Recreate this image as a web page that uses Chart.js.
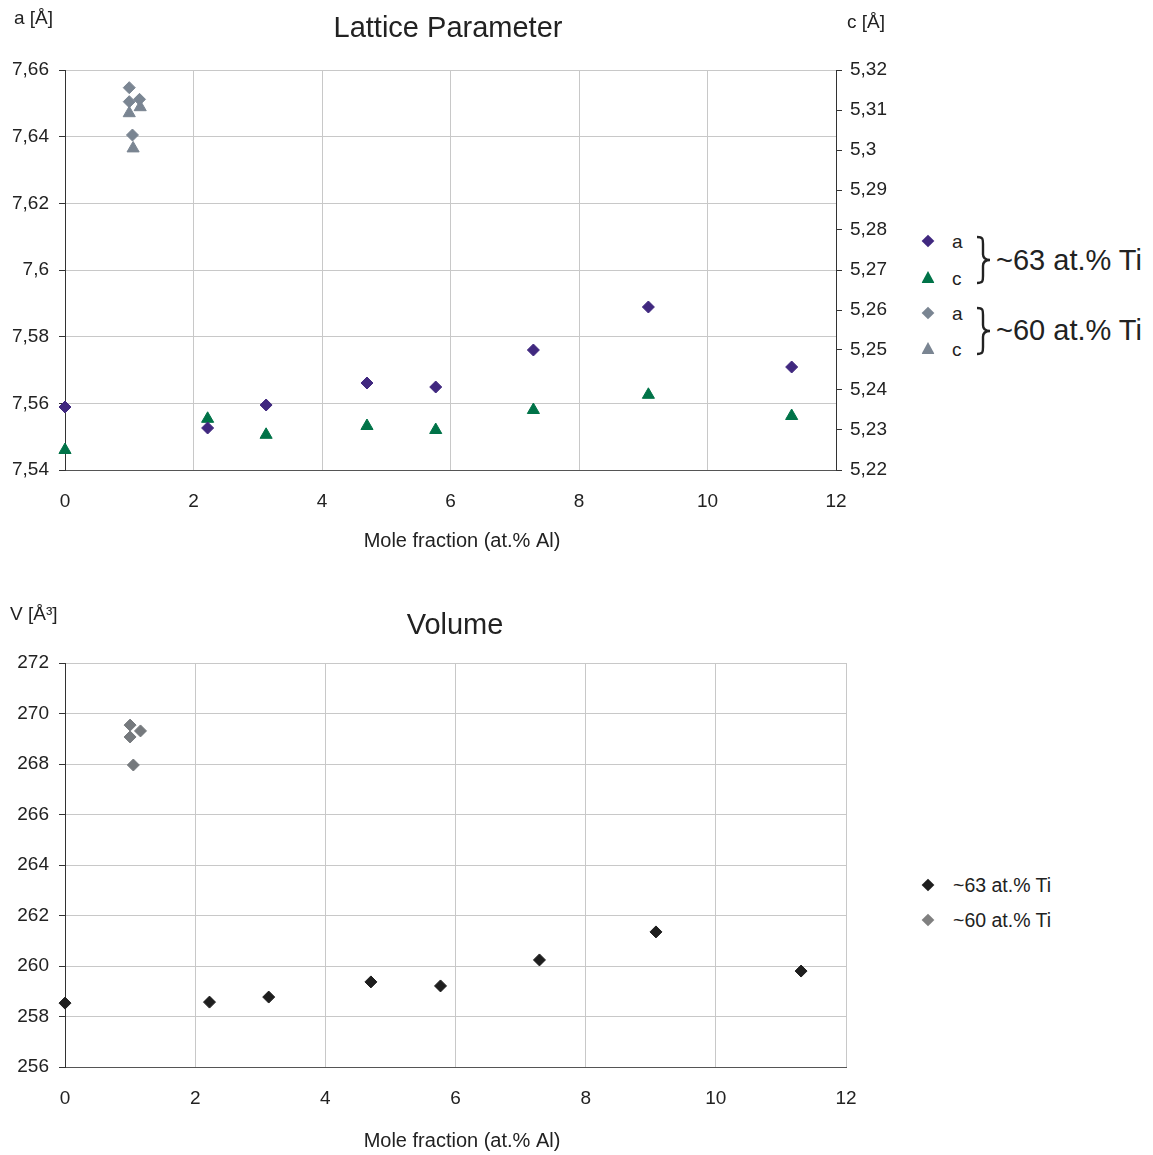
<!DOCTYPE html>
<html>
<head>
<meta charset="utf-8">
<script src="https://cdn.jsdelivr.net/npm/chart.js@4.4.1/dist/chart.umd.min.js"></script>
<style>
  body { margin: 0; background: #fff; font-family: "Liberation Sans", Arial, sans-serif; color: #222; }
  #page { position: relative; width: 1153px; height: 1155px; overflow: hidden; }
  canvas { position: absolute; left: 0; }
  .lg { position: absolute; line-height: 1; white-space: nowrap; transform: translateY(-50%); }
  .dia { position: absolute; width: 9px; height: 9px; transform: translate(-50%, -50%) rotate(45deg); }
  .tri { position: absolute; width: 13px; height: 12px; transform: translate(-50%, -50%);
         clip-path: polygon(50% 0, 100% 100%, 0 100%); }
  .brace { position: absolute; }
</style>
</head>
<body>
<div id="page">
  <canvas id="latticeChart" width="900" height="575" style="top:0"></canvas>
  <canvas id="volumeChart" width="900" height="580" style="top:575px"></canvas>

  <!-- legend, lattice parameter -->
  <div class="dia" style="left:928px;top:241px;background:#40287f"></div>
  <div class="lg" style="left:952px;top:241px;font-size:19px">a</div>
  <div class="tri" style="left:928px;top:277px;background:#007348"></div>
  <div class="lg" style="left:952px;top:278px;font-size:19px">c</div>
  <svg class="brace" style="left:974px;top:235px" width="20" height="50" viewBox="0 0 20 50">
    <path d="M3,2 C9,2 9,4 9,9 L9,19 C9,23 11,25 16,25 C11,25 9,27 9,31 L9,41 C9,46 9,48 3,48" fill="none" stroke="#222" stroke-width="2.4"/>
  </svg>
  <div class="lg" style="left:996px;top:260px;font-size:29px">~63 at.% Ti</div>

  <div class="dia" style="left:928px;top:313px;background:#7a8592"></div>
  <div class="lg" style="left:952px;top:313px;font-size:19px">a</div>
  <div class="tri" style="left:928px;top:348px;background:#7a8592"></div>
  <div class="lg" style="left:952px;top:349px;font-size:19px">c</div>
  <svg class="brace" style="left:974px;top:306px" width="20" height="50" viewBox="0 0 20 50">
    <path d="M3,2 C9,2 9,4 9,9 L9,19 C9,23 11,25 16,25 C11,25 9,27 9,31 L9,41 C9,46 9,48 3,48" fill="none" stroke="#222" stroke-width="2.4"/>
  </svg>
  <div class="lg" style="left:996px;top:330px;font-size:29px">~60 at.% Ti</div>

  <!-- legend, volume -->
  <div class="dia" style="left:928px;top:885px;background:#1e1e1e"></div>
  <div class="lg" style="left:953px;top:886px;font-size:19.5px">~63 at.% Ti</div>
  <div class="dia" style="left:928px;top:920px;background:#808080"></div>
  <div class="lg" style="left:953px;top:921px;font-size:19.5px">~60 at.% Ti</div>
</div>

<script>
// data (x = mole fraction at.% Al)
const x63 = [0, 2.22, 3.13, 4.70, 5.77, 7.29, 9.08, 11.31];
const a63 = [7.5589, 7.5526, 7.5595, 7.5661, 7.5649, 7.5760, 7.5889, 7.5709];
const c63 = [5.2250, 5.2328, 5.2288, 5.2310, 5.2300, 5.2350, 5.2388, 5.2335];
const v63 = [258.53, 258.57, 258.77, 259.37, 259.21, 260.24, 261.35, 259.80];

const x60a = [1.0, 1.0, 1.16, 1.05];
const a60 = [7.6547, 7.6505, 7.6512, 7.6405];
const x60c = [1.0, 1.17, 1.06];
const c60 = [5.3092, 5.3107, 5.3004];
const v60 = [269.54, 269.07, 269.31, 267.96];

const xTicks = [0, 2, 4, 6, 8, 10, 12];

const FONT = '"Liberation Sans", Arial, sans-serif';
const GRID = '#c8c8c8';
const AXIS = '#333';

const pts = (xs, ys) => xs.map((x, i) => ({ x: x, y: ys[i] }));
const comma = (v) => parseFloat(v.toFixed(2)).toString().replace('.', ',');

// draws titles / unit labels at fixed spots
const fixedText = (items) => ({
  id: 'fixedText',
  afterDraw(chart) {
    const ctx = chart.ctx;
    ctx.save();
    ctx.fillStyle = '#222';
    ctx.textBaseline = 'middle';
    items.forEach((t) => {
      ctx.font = t.size + 'px ' + FONT;
      ctx.textAlign = t.align || 'left';
      ctx.fillText(t.text, t.x, t.y);
    });
    ctx.restore();
  },
});

const fitWidth = (w) => (scale) => { scale.width = w; };
const fitHeight = (h) => (scale) => { scale.height = h; };

const xScale = (h) => ({
  type: 'linear',
  min: 0,
  max: 12,
  afterFit: fitHeight(h),
  afterBuildTicks: (scale) => { scale.ticks = xTicks.map((v) => ({ value: v })); },
  grid: { color: GRID, drawTicks: false },
  border: { color: '#555' },
  ticks: { padding: 20, color: '#222', font: { family: FONT, size: 19 } },
});

const marker = (style, color, r) => ({
  pointStyle: style,
  pointRadius: r,
  pointHoverRadius: r,
  pointBackgroundColor: color,
  pointBorderColor: color,
  pointBorderWidth: 1,
  showLine: false,
  clip: false,
});

// lattice parameter
new Chart(document.getElementById('latticeChart'), {
  type: 'scatter',
  data: {
    datasets: [
      { label: 'a ~63', data: pts(x63, a63), yAxisID: 'y', ...marker('rectRot', '#40287f', 6) },
      { label: 'c ~63', data: pts(x63, c63), yAxisID: 'y1', ...marker('triangle', '#007348', 7) },
      { label: 'a ~60', data: pts(x60a, a60), yAxisID: 'y', ...marker('rectRot', '#7a8592', 6) },
      { label: 'c ~60', data: pts(x60c, c60), yAxisID: 'y1', ...marker('triangle', '#7a8592', 7) },
    ],
  },
  options: {
    responsive: false,
    animation: false,
    layout: { padding: { top: 70, right: 0, bottom: 0, left: 0 } },
    scales: {
      x: xScale(105),
      y: {
        position: 'left',
        min: 7.54,
        max: 7.66,
        afterFit: fitWidth(65),
        grid: { color: GRID, tickColor: AXIS, tickLength: 6 },
        border: { color: AXIS },
        ticks: { stepSize: 0.02, padding: 10, color: '#222', font: { family: FONT, size: 19 }, callback: comma },
      },
      y1: {
        position: 'right',
        min: 5.22,
        max: 5.32,
        afterFit: fitWidth(64),
        grid: { drawOnChartArea: false, tickColor: AXIS, tickLength: 6 },
        border: { color: AXIS },
        ticks: { stepSize: 0.01, padding: 8, color: '#222', font: { family: FONT, size: 19 }, callback: comma },
      },
    },
    plugins: {
      legend: { display: false },
      tooltip: { enabled: false },
    },
  },
  plugins: [fixedText([
    { text: 'Lattice Parameter', x: 448, y: 29, size: 29, align: 'center' },
    { text: 'a [Å]', x: 14, y: 19, size: 19 },
    { text: 'c [Å]', x: 847, y: 23, size: 19 },
    { text: 'Mole fraction (at.% Al)', x: 462, y: 541, size: 20, align: 'center' },
  ])],
});

// volume
new Chart(document.getElementById('volumeChart'), {
  type: 'scatter',
  data: {
    datasets: [
      { label: '~63 at.% Ti', data: pts(x63, v63), ...marker('rectRot', '#1e1e1e', 6) },
      { label: '~60 at.% Ti', data: pts(x60a, v60), ...marker('rectRot', '#75797d', 6) },
    ],
  },
  options: {
    responsive: false,
    animation: false,
    layout: { padding: { top: 88, right: 54, bottom: 0, left: 0 } },
    scales: {
      x: xScale(88),
      y: {
        min: 256,
        max: 272,
        afterFit: fitWidth(65),
        grid: { color: GRID, tickColor: AXIS, tickLength: 6 },
        border: { color: AXIS },
        ticks: { stepSize: 2, padding: 10, color: '#222', font: { family: FONT, size: 19 } },
      },
    },
    plugins: {
      legend: { display: false },
      tooltip: { enabled: false },
    },
  },
  plugins: [fixedText([
    { text: 'Volume', x: 455, y: 51, size: 29, align: 'center' },
    { text: 'V [Å³]', x: 10, y: 40, size: 19 },
    { text: 'Mole fraction (at.% Al)', x: 462, y: 566, size: 20, align: 'center' },
  ])],
});
</script>
</body>
</html>
